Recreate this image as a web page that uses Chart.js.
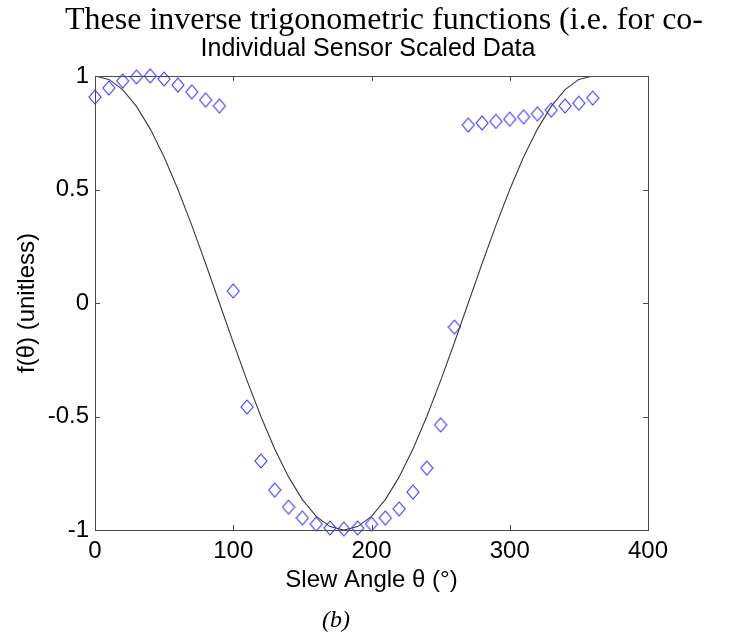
<!DOCTYPE html>
<html lang="en">
<head>
    <meta charset="UTF-8">
    <title>Individual Sensor Scaled Data</title>
    <style>
        body { margin: 0; background: #fff; }
        #wrap { position: relative; width: 729px; height: 636px; }
        .txt { position: absolute; white-space: nowrap; transform: translate(-50%, -50%); color: #000; }
        #topLine { left: 384px; top: 18px; font: 32px "Liberation Serif", "Times New Roman", serif; }
        #plotTitle { left: 368px; top: 47px; font: 25px "Liberation Sans", Arial, sans-serif; }
        #caption { left: 336px; top: 619px; font: italic 24px "Liberation Serif", "Times New Roman", serif; }
    </style>
</head>
<body>
<div id="wrap">
    <canvas id="sensorChart" width="729" height="636"></canvas>
    <div class="txt" id="topLine">These inverse trigonometric functions (i.e. for co-</div>
    <div class="txt" id="plotTitle">Individual Sensor Scaled Data</div>
    <div class="txt" id="caption">(b)</div>
</div>

<script src="https://cdn.jsdelivr.net/npm/chart.js"></script>

<script>
    // slew angles in degrees
    const angles = [0, 10, 20, 30, 40, 50, 60, 70, 80, 90, 100, 110, 120, 130, 140, 150, 160, 170, 180,
        190, 200, 210, 220, 230, 240, 250, 260, 270, 280, 290, 300, 310, 320, 330, 340, 350, 360];
    // measured sensor data (diamonds)
    const sensorValues = [0.907, 0.947, 0.978, 0.996, 1.0, 0.987, 0.96, 0.93, 0.894, 0.868, 0.053, -0.458,
        -0.696, -0.824, -0.899, -0.947, -0.974, -0.991, -0.996, -0.991, -0.974, -0.947, -0.907, -0.833,
        -0.727, -0.537, -0.106, 0.784, 0.793, 0.80, 0.81, 0.82, 0.833, 0.85, 0.868, 0.88, 0.903];
    // reference curve (solid line)
    const modelValues = [1.0, 0.985, 0.94, 0.866, 0.766, 0.643, 0.5, 0.342, 0.174, 0.0, -0.174, -0.342,
        -0.5, -0.643, -0.766, -0.866, -0.94, -0.985, -1.0, -0.985, -0.94, -0.866, -0.766, -0.643, -0.5,
        -0.342, -0.174, 0.0, 0.174, 0.342, 0.5, 0.643, 0.766, 0.866, 0.94, 0.985, 1.0];
    const xTicks = [0, 100, 200, 300, 400];
    const yTicks = [-1, -0.5, 0, 0.5, 1];
    const yTickLabels = ['-1', '-0.5', '0', '0.5', '1'];

    const fontFamily = '"Liberation Sans", Arial, sans-serif';

    // hollow diamond marker
    function diamond() {
        const c = document.createElement('canvas');
        c.width = 14;
        c.height = 16;
        const g = c.getContext('2d');
        g.strokeStyle = 'rgb(45,45,255)';
        g.lineWidth = 1.1;
        g.beginPath();
        g.moveTo(7, 1);
        g.lineTo(13, 8);
        g.lineTo(7, 15);
        g.lineTo(1, 8);
        g.closePath();
        g.stroke();
        return c;
    }

    // axis box with inward ticks, matlab style
    const boxPlugin = {
        id: 'box',
        afterDatasetsDraw(chart) {
            const {ctx, chartArea: a, scales: {x, y}} = chart;
            ctx.save();
            ctx.strokeStyle = '#4a4a4a';
            ctx.lineWidth = 1;
            ctx.strokeRect(Math.round(a.left) + 0.5, Math.round(a.top) + 0.5,
                Math.round(a.right - a.left), Math.round(a.bottom - a.top));
            ctx.beginPath();
            xTicks.forEach(v => {
                const px = Math.round(x.getPixelForValue(v)) + 0.5;
                ctx.moveTo(px, a.bottom);
                ctx.lineTo(px, a.bottom - 5);
                ctx.moveTo(px, a.top);
                ctx.lineTo(px, a.top + 5);
            });
            yTicks.forEach(v => {
                const py = Math.round(y.getPixelForValue(v)) + 0.5;
                ctx.moveTo(a.left, py);
                ctx.lineTo(a.left + 5, py);
                ctx.moveTo(a.right, py);
                ctx.lineTo(a.right - 5, py);
            });
            ctx.stroke();
            ctx.restore();
        }
    };

    new Chart(document.getElementById('sensorChart'), {
        type: 'scatter',
        data: {
            datasets: [{
                label: 'Model',
                data: angles.map((a, i) => ({x: a, y: modelValues[i]})),
                showLine: true,
                borderColor: '#3a3a3a',
                borderWidth: 1.1,
                pointRadius: 0,
                fill: false,
                order: 2
            }, {
                label: 'Sensor',
                data: angles.map((a, i) => ({x: a, y: sensorValues[i]})),
                pointStyle: diamond(),
                pointRadius: 7,
                clip: false,
                order: 1
            }]
        },
        options: {
            responsive: false,
            animation: false,
            layout: {padding: {left: 0, top: 76, right: 81, bottom: 0}},
            plugins: {
                legend: {display: false},
                tooltip: {enabled: false}
            },
            scales: {
                x: {
                    type: 'linear',
                    min: 0,
                    max: 400,
                    afterBuildTicks: s => { s.ticks = xTicks.map(v => ({value: v})); },
                    afterFit: s => { s.height = 106; },
                    grid: {display: false, drawTicks: false},
                    border: {display: false},
                    ticks: {color: '#000', padding: 7, font: {family: fontFamily, size: 24}},
                    title: {
                        display: true,
                        text: 'Slew Angle θ (°)',
                        color: '#000',
                        font: {family: fontFamily, size: 24},
                        padding: {top: 0, bottom: 41}
                    }
                },
                y: {
                    type: 'linear',
                    min: -1,
                    max: 1,
                    afterBuildTicks: s => { s.ticks = yTicks.map(v => ({value: v})); },
                    afterFit: s => { s.width = 95; },
                    grid: {display: false, drawTicks: false},
                    border: {display: false},
                    ticks: {
                        color: '#000',
                        padding: 6,
                        font: {family: fontFamily, size: 24},
                        callback: v => yTickLabels[yTicks.indexOf(v)]
                    },
                    title: {
                        display: true,
                        text: 'f(θ) (unitless)',
                        color: '#000',
                        font: {family: fontFamily, size: 24},
                        padding: {top: 13, bottom: 0}
                    }
                }
            }
        },
        plugins: [boxPlugin]
    });
</script>
</body>
</html>
